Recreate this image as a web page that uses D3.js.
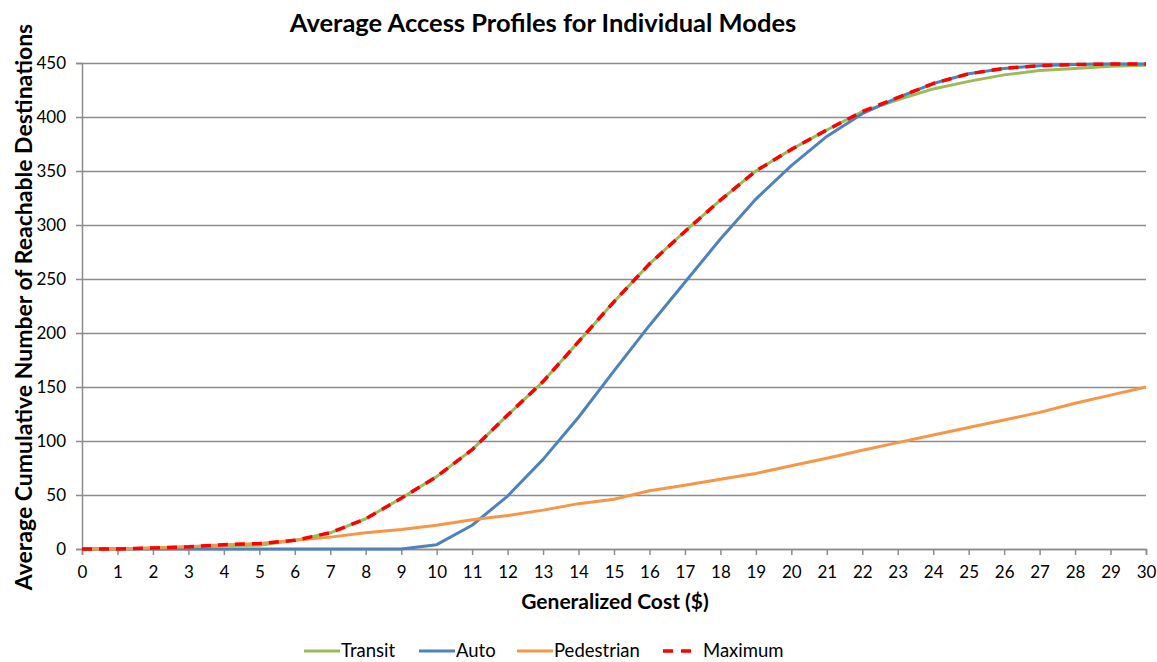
<!DOCTYPE html>
<html lang="en">
<head>
<meta charset="UTF-8">
<title>Average Access Profiles</title>
<script src="https://d3js.org/d3.v7.min.js"></script>
<style>
  body { margin: 0; background: #fff; }
  text { font-family: Lato, "Open Sans", sans-serif; fill: #000; }
</style>
</head>
<body>
<svg id="chart" width="1157" height="662"></svg>
<script>
// generalized cost ($) 0..30
const costs = d3.range(0, 31);
const transit = [0, 0, 1, 2, 3, 3.5, 8, 15, 28, 47, 67, 92, 124, 155, 192, 229, 264, 294, 323, 350, 370, 388, 405, 416, 426, 433, 439, 443, 445, 447, 448];
const auto = [0, 0, 0, 0, 0, 0, 0, 0, 0, 0, 4, 22, 49, 83, 122, 165, 207, 247, 287, 324, 355, 382, 403, 418, 431, 440, 445, 447.5, 448.5, 449, 449];
const pedestrian = [0, 0, 1, 2, 4, 5, 8, 11, 15, 18, 22, 27, 31, 36, 42, 46, 54, 59, 64.5, 70, 77, 84, 91.5, 98.5, 105.5, 112.5, 119.5, 126.5, 135, 142.5, 150];
const maximum = [0, 0, 1, 2, 4, 5, 8, 15, 28, 47, 67, 92, 124, 155, 192, 229, 264, 294, 323, 350, 370, 388, 405, 418, 431, 440, 445, 447.5, 448.5, 449, 449];
const yTicks = [0, 50, 100, 150, 200, 250, 300, 350, 400, 450];

const series = [
  { name: "Transit", values: transit, color: "#9BBB59", dash: null },
  { name: "Auto", values: auto, color: "#4F81BD", dash: null },
  { name: "Pedestrian", values: pedestrian, color: "#F79646", dash: null },
  { name: "Maximum", values: maximum, color: "#FF0000", dash: "10,7" }
];

const svg = d3.select("#chart");
const plotL = 82, plotR = 1146, plotT = 63, plotB = 549;

const x = d3.scaleLinear().domain([0, 30]).range([plotL, plotR]);
const y = d3.scaleLinear().domain([0, 450]).range([plotB, plotT]);

// gridlines + y axis
const yAxis = d3.axisLeft(y).tickValues(yTicks).tickSize(6).tickPadding(10);
const gy = svg.append("g").attr("transform", `translate(${plotL},0)`).call(yAxis);
gy.select(".domain").attr("stroke", "#8c8c8c").attr("stroke-width", 1.5);
gy.selectAll(".tick line").attr("stroke", "#8c8c8c").attr("stroke-width", 1.5)
  .attr("x1", -6).attr("x2", plotR - plotL);
gy.selectAll(".tick text").style("font-size", "17px").attr("font-family", "Lato, sans-serif");

// x axis
const xAxis = d3.axisBottom(x).tickValues(costs).tickSize(6).tickPadding(11).tickFormat(d3.format("d"));
const gx = svg.append("g").attr("transform", `translate(0,${plotB})`).call(xAxis);
gx.select(".domain").attr("stroke", "#8c8c8c").attr("stroke-width", 1.5);
gx.selectAll(".tick line").attr("stroke", "#8c8c8c").attr("stroke-width", 1.5);
gx.selectAll(".tick text").style("font-size", "17px").attr("font-family", "Lato, sans-serif");

// lines
const line = d3.line().x((d, i) => x(costs[i])).y(d => y(d));
svg.append("g").selectAll("path")
  .data(series)
  .join("path")
    .attr("d", d => line(d.values))
    .attr("fill", "none")
    .attr("stroke", d => d.color)
    .attr("stroke-width", d => d.dash ? 3.5 : 3)
    .attr("stroke-dasharray", d => d.dash)
    .attr("stroke-linejoin", "round");

// titles
svg.append("text").attr("x", 543).attr("y", 32).attr("text-anchor", "middle")
  .style("font-size", "25.5px").style("font-weight", "bold")
  .text("Average Access Profiles for Individual Modes");
svg.append("text").attr("x", 615).attr("y", 609).attr("text-anchor", "middle")
  .style("font-size", "21px").style("font-weight", "bold")
  .text("Generalized Cost ($)");
svg.append("text").attr("transform", "translate(32,307) rotate(-90)").attr("text-anchor", "middle")
  .style("font-size", "23px").style("font-weight", "bold")
  .text("Average Cumulative Number of Reachable Destinations");

// legend
const legendX = [304, 419, 517, 663];
const lg = svg.append("g").selectAll("g").data(series).join("g")
  .attr("transform", (d, i) => `translate(${legendX[i]},651)`);
lg.append("line").attr("x1", 0).attr("x2", 36).attr("y1", 0).attr("y2", 0)
  .attr("stroke", d => d.color).attr("stroke-width", d => d.dash ? 3.5 : 3)
  .attr("stroke-dasharray", d => d.dash ? "10,8" : null);
lg.append("text").attr("x", d => d.dash ? 40 : 37).attr("y", 6)
  .style("font-size", "18.5px").text(d => d.name);
</script>
</body>
</html>
